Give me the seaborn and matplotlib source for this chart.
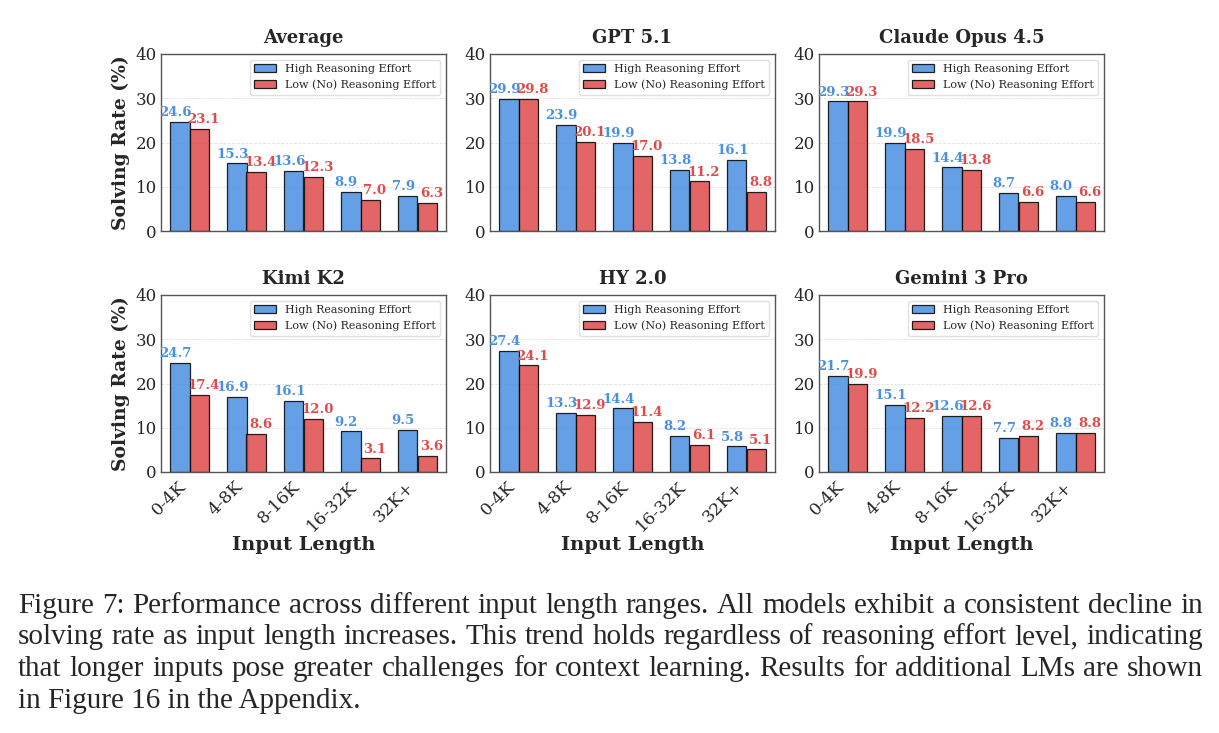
import numpy as np
import pandas as pd
import matplotlib
matplotlib.use("Agg")
import matplotlib.pyplot as plt
from matplotlib.patches import Patch
import seaborn as sns

# ---------------- data ----------------
categories = ["0-4K", "4-8K", "8-16K", "16-32K", "32K+"]
models = ["Average", "GPT 5.1", "Claude Opus 4.5", "Kimi K2", "HY 2.0", "Gemini 3 Pro"]
series_names = ["High Reasoning Effort", "Low (No) Reasoning Effort"]

high_average = [24.6, 15.3, 13.6, 8.9, 7.9]
low_average = [23.1, 13.4, 12.3, 7.0, 6.3]
high_gpt = [29.9, 23.9, 19.9, 13.8, 16.1]
low_gpt = [29.8, 20.1, 17.0, 11.2, 8.8]
high_claude = [29.3, 19.9, 14.4, 8.7, 8.0]
low_claude = [29.3, 18.5, 13.8, 6.6, 6.6]
high_kimi = [24.7, 16.9, 16.1, 9.2, 9.5]
low_kimi = [17.4, 8.6, 12.0, 3.1, 3.6]
high_hy = [27.4, 13.3, 14.4, 8.2, 5.8]
low_hy = [24.1, 12.9, 11.4, 6.1, 5.1]
high_gemini = [21.7, 15.1, 12.6, 7.7, 8.8]
low_gemini = [19.9, 12.2, 12.6, 8.2, 8.8]

y_ticks = [0, 10, 20, 30, 40]

caption_lines = [
    "Figure 7: Performance across different input length ranges. All models exhibit a consistent decline in",
    "solving rate as input length increases. This trend holds regardless of reasoning effort level, indicating",
    "that longer inputs pose greater challenges for context learning. Results for additional LMs are shown",
    "in Figure 16 in the Appendix.",
]

highs = [high_average, high_gpt, high_claude, high_kimi, high_hy, high_gemini]
lows = [low_average, low_gpt, low_claude, low_kimi, low_hy, low_gemini]

# ---------------- style ----------------
sns.set_style("white")
plt.rcParams["font.family"] = ["DejaVu Serif"]

BLUE = "#4A90E2"
RED = "#E04A4A"

W, H = 1219, 733
fig = plt.figure(figsize=(W / 100, H / 100), dpi=100)

col_left = [161, 490, 819]
ax_w = 285
row_top = [54, 295]
ax_h = 177

for idx, model in enumerate(models):
    r, c = divmod(idx, 3)
    left = col_left[c] / W
    bottom = 1 - (row_top[r] + ax_h) / H
    ax = fig.add_axes([left, bottom, ax_w / W, ax_h / H])

    df = pd.DataFrame({
        "length": categories * 2,
        "rate": highs[idx] + lows[idx],
        "effort": [series_names[0]] * 5 + [series_names[1]] * 5,
    })
    sns.barplot(data=df, x="length", y="rate", hue="effort",
                order=categories, hue_order=series_names,
                palette=[BLUE, RED], saturation=1, width=0.7,
                errorbar=None, alpha=0.85, edgecolor="black",
                linewidth=0.9, legend=False, ax=ax)

    ax.set_ylim(0, 40)
    ax.set_yticks(y_ticks)
    ax.tick_params(axis="y", labelsize=12, length=0, pad=3)
    ax.tick_params(axis="x", length=3, width=0.8, color="#666666", pad=1.5)
    ax.yaxis.grid(True, linestyle="--", linewidth=0.6, alpha=0.3, color="#999999")
    ax.set_axisbelow(True)
    for sp in ax.spines.values():
        sp.set_color("#555555")
        sp.set_linewidth(1.0)

    for cont, col, dx in zip(ax.containers, [BLUE, RED], [-3, 3]):
        anns = ax.bar_label(cont, fmt="%.1f", padding=2, color=col,
                            fontsize=9.5, fontweight="bold")
        for a in anns:
            a.xyann = (dx, 2)

    ax.set_title(model, fontsize=13, fontweight="bold", pad=8)
    if c == 0:
        ax.set_ylabel("Solving Rate (%)", fontsize=13.5, fontweight="bold")
    else:
        ax.set_ylabel("")
    if r == 1:
        ax.set_xlabel("Input Length", fontsize=14, fontweight="bold", labelpad=1)
        ax.set_xticks(range(len(categories)))
        ax.set_xticklabels(categories, rotation=45, ha="right", fontsize=12.5)
    else:
        ax.set_xlabel("")
        ax.tick_params(axis="x", labelbottom=False)

    handles = [Patch(facecolor=BLUE, edgecolor="black", alpha=0.85, linewidth=0.9),
               Patch(facecolor=RED, edgecolor="black", alpha=0.85, linewidth=0.9)]
    ax.legend(handles, series_names, loc="upper right", fontsize=8,
              frameon=True, framealpha=0.9, edgecolor="#dddddd",
              borderaxespad=0.5, handlelength=2.0)

# ---------------- caption (justified) ----------------
renderer = fig.canvas.get_renderer()
x0, x1 = 18, 1203
cap_kw = dict(family=["Liberation Serif"], fontsize=21, va="baseline", ha="left")
for i, line in enumerate(caption_lines):
    y = 1 - (613 + 31.5 * i) / H
    if i == len(caption_lines) - 1:
        fig.text(x0 / W, y, line, **cap_kw)
        continue
    words = line.split()
    texts = [fig.text(0, y, w, **cap_kw) for w in words]
    widths = [t.get_window_extent(renderer).width for t in texts]
    gap = (x1 - x0 - sum(widths)) / (len(words) - 1)
    x = x0
    for t, wd in zip(texts, widths):
        t.set_x(x / W)
        x += wd + gap

fig.savefig("out.png", dpi=100)
